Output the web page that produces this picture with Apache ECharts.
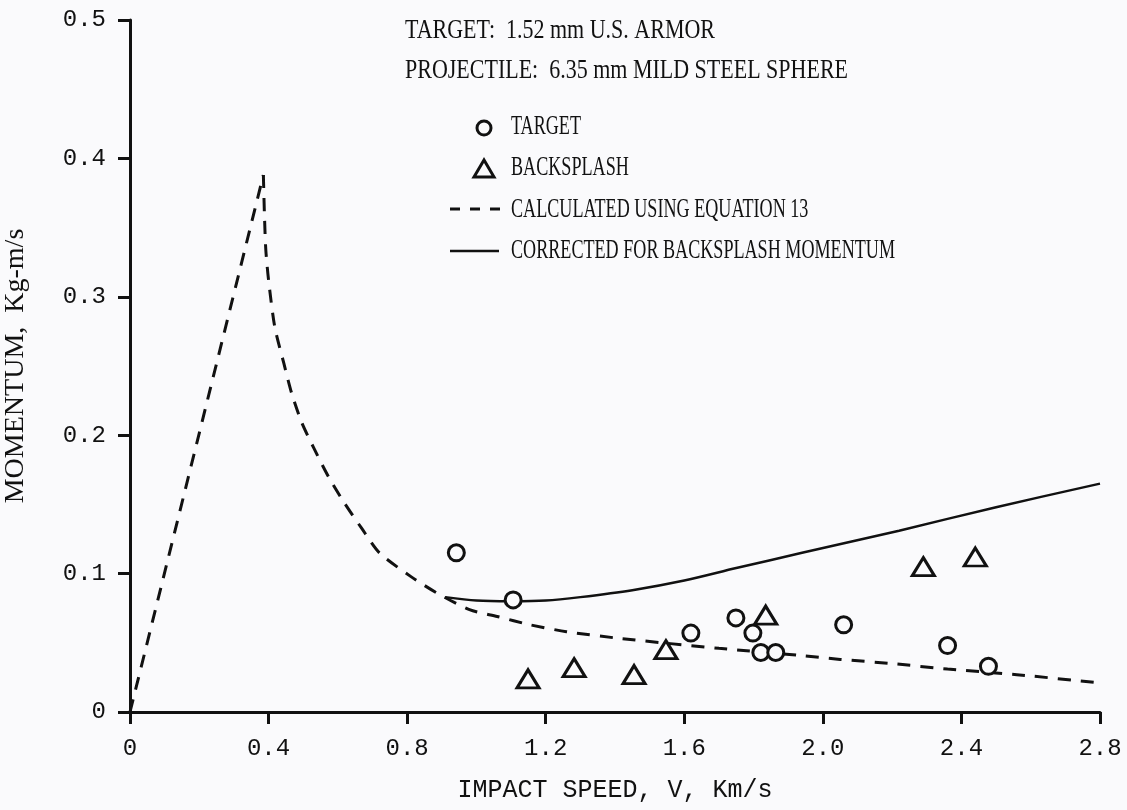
<!DOCTYPE html>
<html>
<head>
<meta charset="utf-8">
<script src="https://cdn.jsdelivr.net/npm/echarts@6/dist/echarts.min.js"></script>
<style>
html,body{margin:0;padding:0;background:#fafafc;}
#c{width:1127px;height:810px;}
</style>
</head>
<body>
<div id="c"></div>
<script>
// ---- data ----
const xTickLabels = ['0', '0.4', '0.8', '1.2', '1.6', '2.0', '2.4', '2.8'];
const yTickLabels = ['0', '0.1', '0.2', '0.3', '0.4', '0.5'];

const titleLines = ['TARGET:  1.52 mm U.S. ARMOR', 'PROJECTILE:  6.35 mm MILD STEEL SPHERE'];
const seriesNames = ['TARGET', 'BACKSPLASH', 'CALCULATED USING EQUATION 13', 'CORRECTED FOR BACKSPLASH MOMENTUM'];

const targetX = [0.942, 1.106, 1.619, 1.749, 1.798, 1.821, 1.864, 2.06, 2.36, 2.478];
const targetY = [0.115, 0.081, 0.057, 0.068, 0.057, 0.043, 0.043, 0.063, 0.048, 0.033];

const backsplashX = [1.149, 1.282, 1.455, 1.547, 1.835, 2.29, 2.44];
const backsplashY = [0.024, 0.032, 0.027, 0.045, 0.070, 0.105, 0.112];

const calcRiseX = [0, 0.385];
const calcRiseY = [0, 0.388];

const calcFallX = [0.385, 0.388, 0.392, 0.40, 0.418, 0.444, 0.467, 0.496, 0.53, 0.573, 0.619, 0.668, 0.72, 0.81, 0.886, 0.98, 1.06, 1.155, 1.26, 1.42, 1.70, 1.93, 2.05, 2.2, 2.36, 2.56, 2.8];
const calcFallY = [0.388, 0.36, 0.334, 0.312, 0.278, 0.252, 0.230, 0.209, 0.191, 0.170, 0.151, 0.133, 0.115, 0.098, 0.086, 0.074, 0.069, 0.063, 0.058, 0.053, 0.046, 0.041, 0.038, 0.035, 0.031, 0.027, 0.021];

const corrX = [0.91, 1.0, 1.1, 1.2, 1.3, 1.45, 1.6, 1.75, 1.94, 2.08, 2.22, 2.5, 2.8];
const corrY = [0.083, 0.0805, 0.080, 0.0805, 0.083, 0.088, 0.095, 0.104, 0.115, 0.123, 0.131, 0.148, 0.165];

// ---- helpers ----
const zip = (xs, ys) => xs.map((x, i) => [x, ys[i]]);
const INK = '#111111';
const BG = '#fafafc';
const SERIF = '"Liberation Serif", "DejaVu Serif", serif';
const MONO = '"Liberation Mono", "DejaVu Sans Mono", monospace';

const ctx = document.createElement('canvas').getContext('2d');
function widthOf(t, font) { ctx.font = font; return ctx.measureText(t).width; }

const legFont = '27px ' + SERIF;
const titleScale = 443 / widthOf(titleLines[1], legFont);
const legScale = 384 / widthOf(seriesNames[3], legFont);

function label(text, x, y, scale) {
  return {
    type: 'text', x: x, y: y, scaleX: scale, silent: true,
    style: { text: text, font: legFont, fill: INK, textVerticalAlign: 'middle', textAlign: 'left' }
  };
}

const graphics = [
  label(titleLines[0], 405, 31, titleScale),
  label(titleLines[1], 405, 71, titleScale),
  { type: 'circle', shape: { cx: 484, cy: 128, r: 7 }, style: { fill: 'none', stroke: INK, lineWidth: 3 } },
  { type: 'polygon', shape: { points: [[484, 160], [474, 177], [494, 177]] }, style: { fill: 'none', stroke: INK, lineWidth: 3 } },
  { type: 'line', shape: { x1: 450, y1: 209, x2: 500, y2: 209 }, style: { stroke: INK, lineWidth: 3, lineDash: [10, 10] } },
  { type: 'line', shape: { x1: 450, y1: 251, x2: 499, y2: 251 }, style: { stroke: INK, lineWidth: 2.5 } },
  label(seriesNames[0], 511, 127, legScale),
  label(seriesNames[1], 511, 168, legScale),
  label(seriesNames[2], 511, 210, legScale),
  label(seriesNames[3], 511, 251, legScale)
];

const chart = echarts.init(document.getElementById('c'), null, { renderer: 'canvas' });
chart.setOption({
  backgroundColor: BG,
  animation: false,
  grid: { left: 130, right: 27, top: 20, bottom: 98, containLabel: false, outerBoundsMode: 'none' },
  xAxis: {
    type: 'value', min: 0, max: 2.8, interval: 0.4,
    name: 'IMPACT SPEED, V, Km/s', nameLocation: 'middle', nameGap: 66,
    nameTextStyle: { fontFamily: MONO, fontSize: 25, color: INK },
    axisLine: { show: true, onZero: false, lineStyle: { color: INK, width: 3 } },
    axisTick: { show: true, inside: false, length: 12, lineStyle: { color: INK, width: 3 } },
    axisLabel: { margin: 25, fontFamily: MONO, fontSize: 24, color: INK,
      formatter: (v, i) => xTickLabels[i] },
    splitLine: { show: false }
  },
  yAxis: {
    type: 'value', min: 0, max: 0.5, interval: 0.1,
    name: 'MOMENTUM,  Kg-m/s', nameLocation: 'middle', nameGap: 100, nameRotate: 90,
    nameTextStyle: { fontFamily: SERIF, fontSize: 28, color: INK },
    axisLine: { show: true, onZero: false, lineStyle: { color: INK, width: 3 } },
    axisTick: { show: true, inside: false, length: 12, lineStyle: { color: INK, width: 3 } },
    axisLabel: { margin: 24, fontFamily: MONO, fontSize: 24, color: INK,
      formatter: (v, i) => yTickLabels[i] },
    splitLine: { show: false }
  },
  graphic: graphics,
  series: [
    {
      name: seriesNames[2], type: 'line', data: zip(calcRiseX, calcRiseY),
      showSymbol: false, symbol: 'none', silent: true, z: 2,
      lineStyle: { color: INK, width: 3, type: [13, 10] }
    },
    {
      name: seriesNames[2], type: 'line', data: zip(calcFallX, calcFallY),
      showSymbol: false, symbol: 'none', silent: true, smooth: 0.25, z: 2,
      lineStyle: { color: INK, width: 3, type: [13, 10] }
    },
    {
      name: seriesNames[3], type: 'line', data: zip(corrX, corrY),
      showSymbol: false, symbol: 'none', silent: true, smooth: 0.3, z: 2,
      lineStyle: { color: INK, width: 2.5 }
    },
    {
      name: seriesNames[0], type: 'scatter', data: zip(targetX, targetY),
      symbol: 'circle', symbolSize: 16, z: 3,
      itemStyle: { color: BG, borderColor: INK, borderWidth: 3, opacity: 1 }
    },
    {
      name: seriesNames[1], type: 'scatter', data: zip(backsplashX, backsplashY),
      symbol: 'triangle', symbolSize: [22, 18], z: 3,
      itemStyle: { color: BG, borderColor: INK, borderWidth: 3, opacity: 1 }
    }
  ]
});
</script>
</body>
</html>
